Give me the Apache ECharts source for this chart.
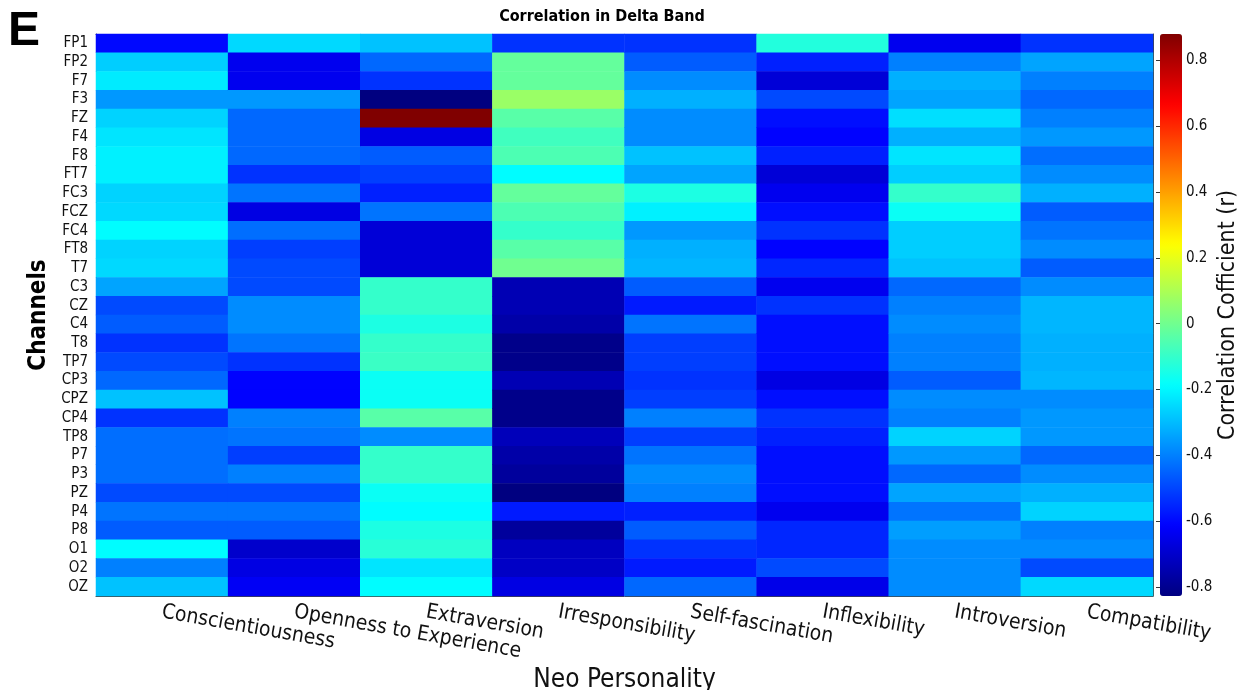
<!DOCTYPE html>
<html>
<head>
<meta charset="utf-8">
<script src="https://cdn.jsdelivr.net/npm/echarts@6/dist/echarts.min.js"></script>
<style>
  html, body { margin: 0; padding: 0; background: #fff; }
  #main { width: 1241px; height: 690px; }
</style>
</head>
<body>
<div id="main"></div>
<script>
  // categories
  var traits = ['Conscientiousness', 'Openness to Experience', 'Extraversion', 'Irresponsibility',
                'Self-fascination', 'Inflexibility', 'Introversion', 'Compatibility'];
  var channels = ['FP1', 'FP2', 'F7', 'F3', 'FZ', 'F4', 'F8', 'FT7', 'FC3', 'FCZ', 'FC4', 'FT8', 'T7',
                  'C3', 'CZ', 'C4', 'T8', 'TP7', 'CP3', 'CPZ', 'CP4', 'TP8', 'P7', 'P3', 'PZ', 'P4',
                  'P8', 'O1', 'O2', 'OZ'];

  // correlation r per trait, one value per channel (FP1 ... OZ)
  var conscientiousness = [-0.60, -0.27, -0.22, -0.36, -0.26, -0.23, -0.21, -0.21, -0.26, -0.25, -0.19, -0.26, -0.25,
                           -0.34, -0.49, -0.46, -0.53, -0.49, -0.44, -0.29, -0.53, -0.43, -0.43, -0.43, -0.49, -0.42,
                           -0.46, -0.19, -0.40, -0.29];
  var openness = [-0.25, -0.64, -0.64, -0.36, -0.44, -0.44, -0.44, -0.53, -0.42, -0.66, -0.43, -0.51, -0.49,
                  -0.49, -0.38, -0.38, -0.42, -0.53, -0.61, -0.61, -0.40, -0.42, -0.51, -0.40, -0.49, -0.42,
                  -0.46, -0.70, -0.66, -0.63];
  var extraversion = [-0.29, -0.44, -0.53, -0.83, 0.88, -0.66, -0.46, -0.51, -0.56, -0.42, -0.68, -0.68, -0.68,
                      -0.10, -0.10, -0.14, -0.10, -0.09, -0.17, -0.17, -0.04, -0.38, -0.10, -0.10, -0.17, -0.19,
                      -0.14, -0.12, -0.23, -0.19];
  var irresponsibility = [-0.53, -0.02, -0.02, 0.07, -0.04, -0.08, -0.06, -0.19, -0.02, -0.06, -0.10, -0.04, 0.00,
                          -0.74, -0.74, -0.76, -0.81, -0.81, -0.74, -0.81, -0.81, -0.73, -0.76, -0.78, -0.83, -0.57,
                          -0.78, -0.72, -0.71, -0.66];
  var selfFascination = [-0.53, -0.46, -0.38, -0.32, -0.38, -0.38, -0.29, -0.34, -0.14, -0.21, -0.36, -0.32, -0.31,
                         -0.46, -0.57, -0.42, -0.51, -0.51, -0.53, -0.51, -0.40, -0.51, -0.42, -0.38, -0.40, -0.56,
                         -0.46, -0.53, -0.57, -0.44];
  var inflexibility = [-0.13, -0.56, -0.68, -0.49, -0.59, -0.61, -0.56, -0.68, -0.64, -0.59, -0.53, -0.61, -0.55,
                       -0.64, -0.53, -0.59, -0.59, -0.59, -0.66, -0.59, -0.53, -0.56, -0.59, -0.59, -0.59, -0.64,
                       -0.55, -0.55, -0.49, -0.65];
  var introversion = [-0.64, -0.40, -0.32, -0.34, -0.24, -0.32, -0.23, -0.27, -0.10, -0.17, -0.27, -0.27, -0.29,
                      -0.44, -0.40, -0.38, -0.40, -0.40, -0.46, -0.38, -0.40, -0.26, -0.36, -0.44, -0.34, -0.42,
                      -0.35, -0.38, -0.38, -0.38];
  var compatibility = [-0.53, -0.34, -0.40, -0.44, -0.40, -0.36, -0.43, -0.38, -0.32, -0.46, -0.42, -0.38, -0.46,
                       -0.38, -0.31, -0.31, -0.32, -0.32, -0.31, -0.38, -0.36, -0.36, -0.44, -0.38, -0.32, -0.26,
                       -0.40, -0.38, -0.49, -0.25];

  var columns = [conscientiousness, openness, extraversion, irresponsibility,
                 selfFascination, inflexibility, introversion, compatibility];

  // colour scale and colorbar ticks
  var rMin = -0.827;
  var rMax = 0.88;
  var cbTicks = [-0.8, -0.6, -0.4, -0.2, 0, 0.2, 0.4, 0.6, 0.8];
  var jet = ['#000080', '#0000ff', '#0080ff', '#00ffff', '#80ff80', '#ffff00', '#ff8000', '#ff0000', '#800000'];

  var data = [];
  for (var i = 0; i < columns.length; i++) {
    for (var j = 0; j < channels.length; j++) {
      data.push([i, j, columns[i][j]]);
    }
  }

  var font = "'Liberation Sans Narrow', 'DejaVu Sans Condensed', sans-serif";
  var chart = echarts.init(document.getElementById('main'));

  var option = {
    backgroundColor: '#fff',
    animation: false,
    textStyle: { fontFamily: font },
    title: {
      text: 'Correlation in Delta Band',
      left: 597,
      top: 4,
      textAlign: 'center',
      textStyle: { fontSize: 16, fontWeight: 'bold', color: '#000', fontFamily: font }
    },
    graphic: [{
      type: 'text',
      left: 8,
      top: 8,
      style: { text: 'E', fontSize: 48, fontWeight: 'bold', fill: '#000', fontFamily: 'Liberation Sans' }
    }],
    grid: [
      { left: 96, right: 88, top: 34, height: 562, outerBoundsMode: 'none' },
      { left: 1160, width: 22, top: 34, height: 562, outerBoundsMode: 'none' }
    ],
    xAxis: [{
      type: 'category',
      gridIndex: 0,
      data: traits,
      position: 'bottom',
      name: 'Neo Personality',
      nameLocation: 'middle',
      nameGap: 61,
      nameTextStyle: { fontSize: 26, color: '#111' },
      axisLine: { lineStyle: { color: '#444', width: 1 } },
      axisTick: { inside: true, alignWithLabel: true, length: 5, lineStyle: { color: '#333' } },
      axisLabel: { interval: 0, rotate: -10, fontSize: 21, color: '#111', margin: 16 },
      splitLine: { show: false }
    }, {
      type: 'category',
      gridIndex: 0,
      data: traits,
      position: 'top',
      axisLine: { lineStyle: { color: '#444', width: 1 } },
      axisTick: { inside: true, alignWithLabel: true, length: 5, lineStyle: { color: '#333' } },
      axisLabel: { show: false }
    }, {
      type: 'value',
      gridIndex: 1,
      show: false
    }],
    yAxis: [{
      type: 'category',
      gridIndex: 0,
      data: channels,
      inverse: true,
      name: 'Channels',
      nameLocation: 'middle',
      nameGap: 44,
      nameRotate: 90,
      nameTextStyle: { fontSize: 24, fontWeight: 'bold', color: '#000' },
      axisLine: { lineStyle: { color: '#444', width: 1 } },
      axisTick: { inside: true, alignWithLabel: true, length: 5, interval: 0, lineStyle: { color: '#333' } },
      axisLabel: { interval: 0, fontSize: 15, color: '#111', margin: 8 }
    }, {
      type: 'category',
      gridIndex: 0,
      data: channels,
      inverse: true,
      position: 'right',
      axisLine: { lineStyle: { color: '#444', width: 1 } },
      axisTick: { inside: true, alignWithLabel: true, length: 5, interval: 0, lineStyle: { color: '#333' } },
      axisLabel: { show: false }
    }, {
      type: 'value',
      gridIndex: 1,
      position: 'right',
      min: rMin,
      max: rMax,
      name: 'Correlation Cofficient (r)',
      nameLocation: 'middle',
      nameRotate: 90,
      nameGap: 28,
      nameTextStyle: { fontSize: 23, color: '#111' },
      axisLine: { show: false },
      axisTick: { show: true, inside: true, length: 4, customValues: cbTicks, lineStyle: { color: '#333' } },
      axisLabel: { fontSize: 15, color: '#111', margin: 4, customValues: cbTicks },
      splitLine: { show: false }
    }],
    visualMap: {
      type: 'continuous',
      seriesIndex: 0,
      min: rMin,
      max: rMax,
      orient: 'vertical',
      left: 1160,
      top: 34,
      itemWidth: 22,
      itemHeight: 562,
      padding: 0,
      calculable: false,
      showLabel: false,
      text: null,
      inRange: { color: jet }
    },
    series: [{
      type: 'heatmap',
      xAxisIndex: 0,
      yAxisIndex: 0,
      data: data,
      itemStyle: { borderWidth: 0 },
      emphasis: { disabled: true }
    }]
  };

  chart.setOption(option);
  window.onresize = chart.resize;
</script>
</body>
</html>
